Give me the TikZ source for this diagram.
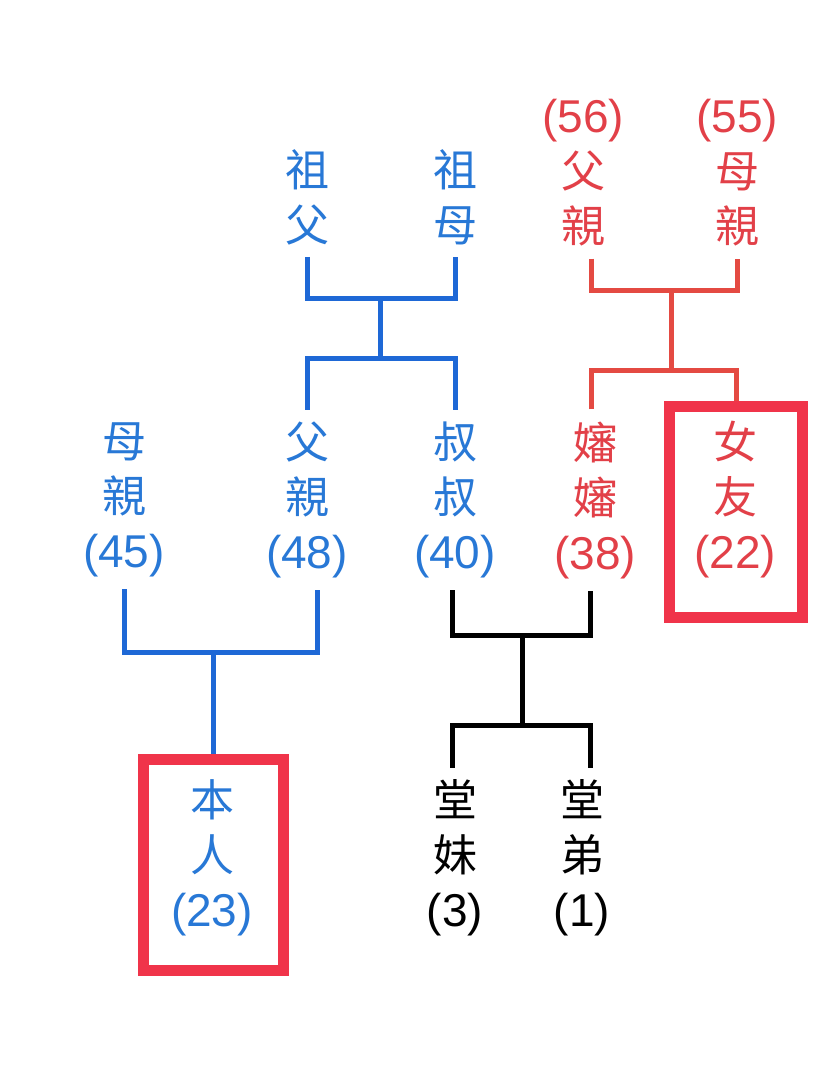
\documentclass[tikz,border=0pt]{standalone}
\usepackage{fontspec}
\setmainfont{Liberation Sans}
\newfontfamily\cjk{Noto Sans CJK TC}
\definecolor{kinblue}{RGB}{40,120,214}
\definecolor{kinred}{RGB}{226,64,72}
\definecolor{lineblue}{RGB}{30,104,214}
\definecolor{linered}{RGB}{228,74,66}
\definecolor{boxred}{RGB}{240,52,74}
\newcommand{\yrs}[1]{{\rmfamily\fontsize{46}{55}\selectfont(#1)}}

\begin{document}
\begin{tikzpicture}[
    x=1pt, y=-1pt,
    p/.style={align=center, font=\cjk\fontsize{44}{55}\selectfont, inner xsep=0pt, inner ysep=12pt},
    pb/.style={p, text=kinblue},
    pr/.style={p, text=kinred},
    pk/.style={p, text=black},
    hl/.style={draw=boxred, line width=11pt, minimum width=#1, minimum height=211pt, inner sep=0pt},
    lb/.style={line width=5pt, lineblue},
    lr/.style={line width=5pt, linered},
    lk/.style={line width=5pt, black},
]
\useasboundingbox (0,0) rectangle (828,1091);

% grandparents
\node[pb] (zf) at (307,197) {祖\\父};
\node[pb] (zm) at (455,197) {祖\\母};
\node[pr] (gf) at (583,173) {\yrs{56}\\父\\親};
\node[pr] (gm) at (737,173) {\yrs{55}\\母\\親};

% parents row
\node[pb] (mo) at (124,500) {母\\親\\\yrs{45}};
\node[pb] (fa) at (307,500) {父\\親\\\yrs{48}};
\node[pb] (uc) at (455,500) {叔\\叔\\\yrs{40}};
\node[pr] (au) at (595,500) {嬸\\嬸\\\yrs{38}};
\node[hl=133pt] (gfbox) at (736,512) {};
\node[pr] (gfr) at (735,500) {女\\友\\\yrs{22}};

% children row
\node[hl=140pt] (mebox) at (213,865) {};
\node[pb] (me) at (212,858) {本\\人\\\yrs{23}};
\node[pk] (cs) at (455,858) {堂\\妹\\\yrs{3}};
\node[pk] (cb) at (582,858) {堂\\弟\\\yrs{1}};

% junctions
\coordinate (gpj) at (380,298);
\coordinate (gcj) at (380,358);
\coordinate (rpj) at (671,290);
\coordinate (rcj) at (671,370);
\coordinate (pj) at (213,652);
\coordinate (aj) at (522,635);
\coordinate (cj) at (522,725);

\draw[lb] (zf.south) |- (gpj) -| (zm.south);
\draw[lb] (gpj) -- (gcj);
\draw[lb] (fa.north) |- (gcj) -| (uc.north);

\draw[lr] ([xshift=8pt]gf.south) |- (rpj) -| (gm.south);
\draw[lr] (rpj) -- (rcj);
\draw[lr] ([xshift=-4pt]au.north) |- (rcj) -| (gfbox.north);

\draw[lb] (mo.south) |- (pj) -| ([xshift=10pt]fa.south);
\draw[lb] (pj) -- (mebox.north);

\draw[lk] ([xshift=-3pt]uc.south) |- (aj) -| ([xshift=-5pt]au.south);
\draw[lk] (aj) -- (cj);
\draw[lk] ([xshift=-3pt]cs.north) |- (cj) -| ([xshift=8pt]cb.north);
\end{tikzpicture}
\end{document}
